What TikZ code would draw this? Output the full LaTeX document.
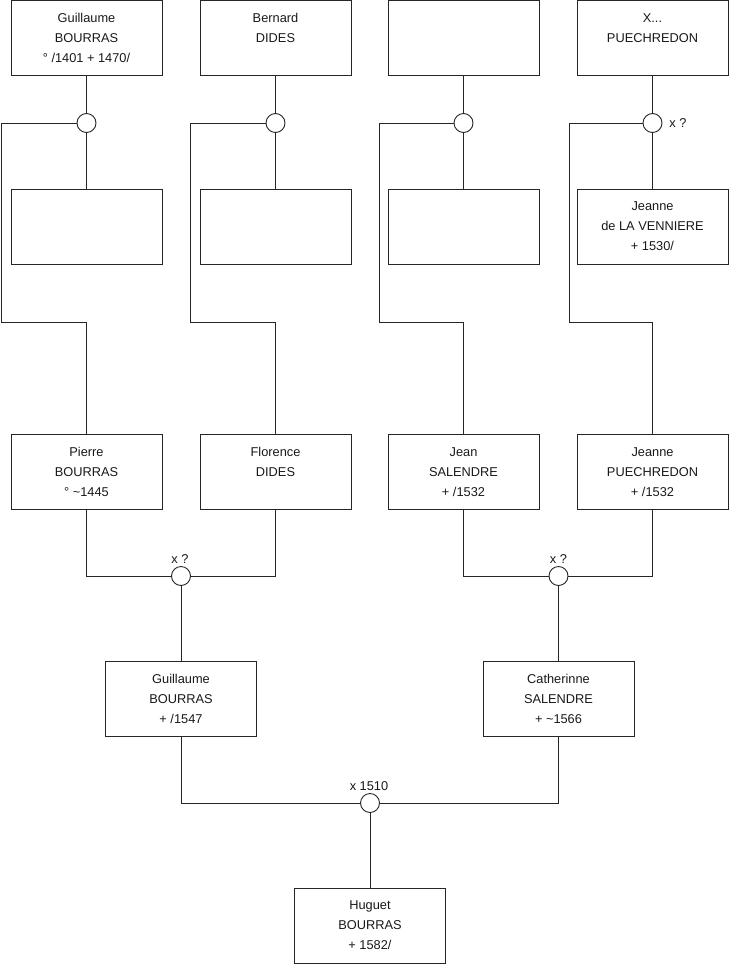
\documentclass[tikz,border=0pt]{standalone}
\usepackage{fontspec}
\setmainfont{Liberation Sans}
\begin{document}
\begin{tikzpicture}[x=1pt,y=-1pt,
  person/.style={draw=black!85, line width=0.9pt, minimum width=151pt, minimum height=75pt,
    inner sep=0pt, align=center, font=\fontsize{12.8}{20}\selectfont, text=black!90},
  union/.style={circle, draw=black!85, line width=0.9pt, fill=white, minimum size=19pt, inner sep=0pt},
  conn/.style={draw=black!85, line width=0.9pt},
  lbl/.style={font=\fontsize{12.8}{14}\selectfont, text=black!90, inner sep=0pt}]
\useasboundingbox (0,0) rectangle (740,975);
% top row
\node[person] (a1) at (86.5,38) {Guillaume\\BOURRAS\\° /1401 + 1470/};
\node[person] (a2) at (275.5,38) {Bernard\\DIDES\\\mbox{}};
\node[person] (a3) at (463.5,38) {};
\node[person] (a4) at (652.5,38) {X...\\PUECHREDON\\\mbox{}};
% unions top
\node[union] (u1) at (86.5,123) {};
\node[union] (u2) at (275.5,123) {};
\node[union] (u3) at (463.5,123) {};
\node[union] (u4) at (652.5,123) {};
\node[lbl] (l4) at (678,123) {x ?};
% second row
\node[person] (s1) at (86.5,227) {};
\node[person] (s2) at (275.5,227) {};
\node[person] (s3) at (463.5,227) {};
\node[person] (s4) at (652.5,226.5) {Jeanne\\de LA VENNIERE\\+ 1530/};
% third row
\node[person] (p1) at (86.5,472) {Pierre\\BOURRAS\\° \textasciitilde1445};
\node[person] (p2) at (275.5,472) {Florence\\DIDES\\\mbox{}};
\node[person] (p3) at (463.5,472) {Jean\\SALENDRE\\+ /1532};
\node[person] (p4) at (652.5,472) {Jeanne\\PUECHREDON\\+ /1532};
% corner coordinates
\coordinate (k1) at (1.5,322);
\coordinate (k2) at (190.5,322);
\coordinate (k3) at (379.5,322);
\coordinate (k4) at (569.5,322);
% unions row 3
\node[union] (v1) at (181,576) {};
\node[union] (v2) at (558.5,576) {};
\node[lbl] (lv1) at (180,559) {x ?};
\node[lbl] (lv2) at (558.5,559) {x ?};
% fourth row
\node[person] (g1) at (181,699) {Guillaume\\BOURRAS\\+ /1547};
\node[person] (g2) at (558.5,699) {Catherinne\\SALENDRE\\+ \textasciitilde1566};
% bottom union
\node[union] (w) at (370,803) {};
\node[lbl] (lw) at (369,786) {x 1510};
\node[person] (h) at (370,925.5) {Huguet\\BOURRAS\\+ 1582/};
% connectors top
\foreach \i in {1,2,3,4}{
  \draw[conn] (a\i.south) -- (u\i.north);
  \draw[conn] (u\i.south) -- (s\i.north);
  \draw[conn] (u\i.west) -| (k\i) -| (p\i.north);
}
% connectors row 3
\draw[conn] (p1.south) |- (v1.west);
\draw[conn] (p2.south) |- (v1.east);
\draw[conn] (v1.south) -- (g1.north);
\draw[conn] (p3.south) |- (v2.west);
\draw[conn] (p4.south) |- (v2.east);
\draw[conn] (v2.south) -- (g2.north);
% bottom
\draw[conn] (g1.south) |- (w.west);
\draw[conn] (g2.south) |- (w.east);
\draw[conn] (w.south) -- (h.north);
\end{tikzpicture}
\end{document}
